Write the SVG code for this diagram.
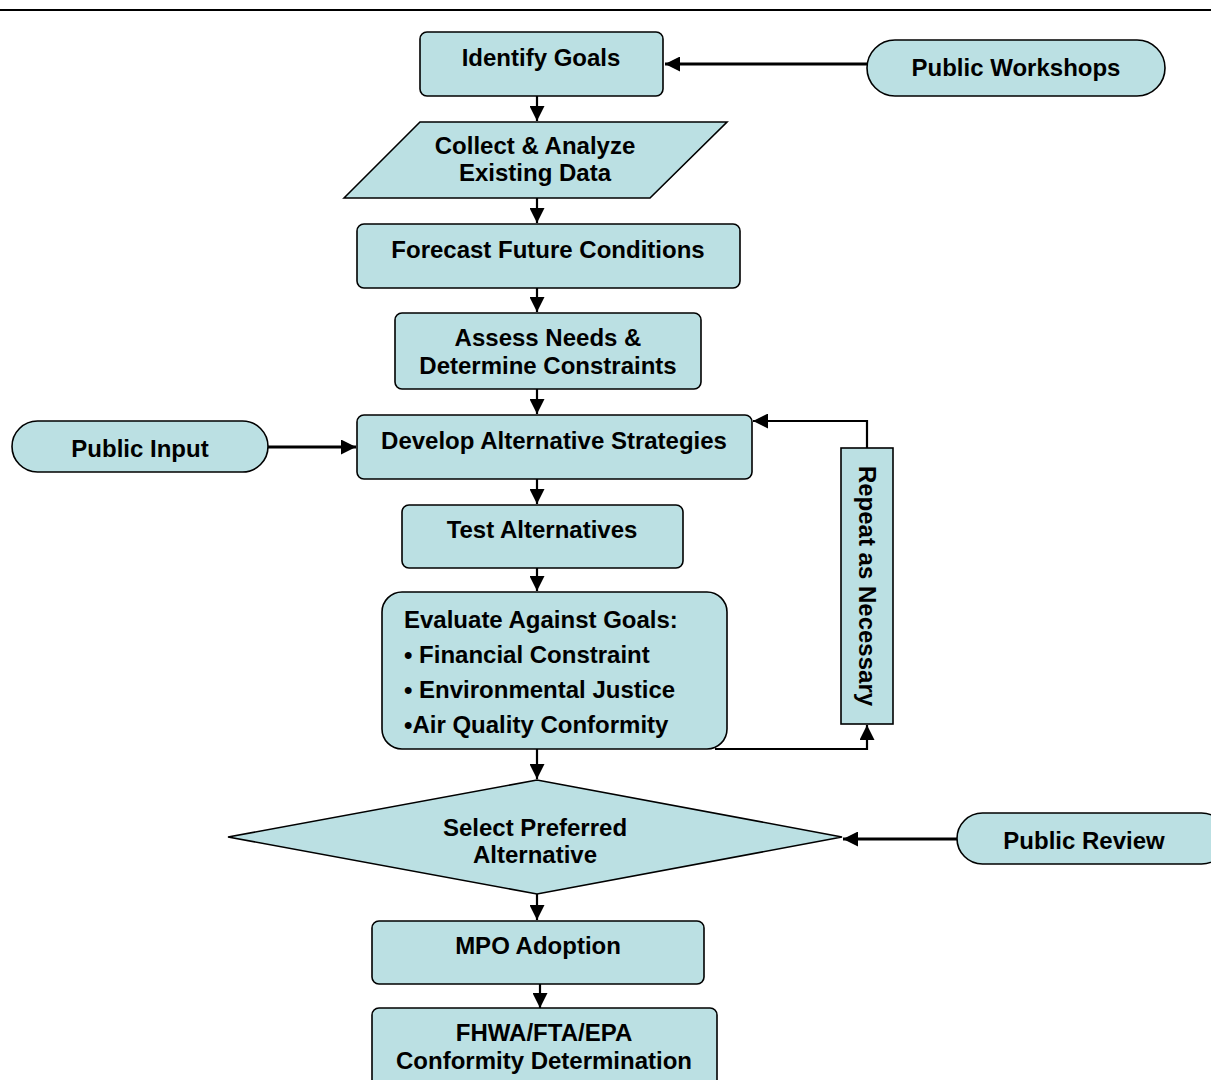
<svg xmlns="http://www.w3.org/2000/svg" width="1211" height="1080" viewBox="0 0 1211 1080">
<style>
.n{fill:#bbe0e3;stroke:#000;stroke-width:1.6}
.t{font-family:"Liberation Sans",Arial,sans-serif;font-weight:bold;font-size:24px;fill:#000}
.m{text-anchor:middle}
.c{fill:none;stroke:#000;stroke-width:2.2}
.h{fill:none;stroke:#000;stroke-width:3}
</style>
<defs>
<marker id="b" viewBox="0 0 10 10" refX="10" refY="5" markerWidth="15" markerHeight="15" markerUnits="userSpaceOnUse" orient="auto">
<path d="M0,0 L10,5 L0,10 z" fill="#000"/>
</marker>
</defs>
<line x1="0" y1="10" x2="1211" y2="10" stroke="#000" stroke-width="2"/>
<g id="connectors">
<line class="h" x1="867" y1="64" x2="665" y2="64" marker-end="url(#b)"/>
<line class="c" x1="537" y1="96" x2="537" y2="121" marker-end="url(#b)"/>
<line class="c" x1="537" y1="198" x2="537" y2="223" marker-end="url(#b)"/>
<line class="c" x1="537" y1="288" x2="537" y2="312" marker-end="url(#b)"/>
<line class="c" x1="537" y1="389" x2="537" y2="414" marker-end="url(#b)"/>
<line class="h" x1="268" y1="447" x2="356" y2="447" marker-end="url(#b)"/>
<line class="c" x1="537" y1="479" x2="537" y2="504" marker-end="url(#b)"/>
<line class="c" x1="537" y1="568" x2="537" y2="591" marker-end="url(#b)"/>
<polyline class="c" points="715,749 867,749 867,725" marker-end="url(#b)"/>
<polyline class="c" points="867,448 867,421 753,421" marker-end="url(#b)"/>
<line class="c" x1="537" y1="749" x2="537" y2="779" marker-end="url(#b)"/>
<line class="h" x1="957" y1="839" x2="843" y2="839" marker-end="url(#b)"/>
<line class="c" x1="537" y1="894" x2="537" y2="920" marker-end="url(#b)"/>
<line class="c" x1="540" y1="984" x2="540" y2="1008" marker-end="url(#b)"/>
</g>
<g id="identify-goals">
<rect class="n" x="420" y="32" width="243" height="64" rx="7"/>
<text class="t m" x="541" y="66">Identify Goals</text>
</g>
<g id="public-workshops">
<rect class="n" x="867" y="40" width="298" height="56" rx="28"/>
<text class="t m" x="1016" y="76">Public Workshops</text>
</g>
<g id="collect-analyze">
<polygon class="n" points="344,198 420,122 727,122 650,198"/>
<text class="t m" x="535" y="154">Collect &amp; Analyze</text>
<text class="t m" x="535" y="181">Existing Data</text>
</g>
<g id="forecast">
<rect class="n" x="357" y="224" width="383" height="64" rx="7"/>
<text class="t m" x="548" y="258">Forecast Future Conditions</text>
</g>
<g id="assess-needs">
<rect class="n" x="395" y="313" width="306" height="76" rx="7"/>
<text class="t m" x="548" y="346">Assess Needs &amp;</text>
<text class="t m" x="548" y="374">Determine Constraints</text>
</g>
<g id="develop-alternatives">
<rect class="n" x="357" y="415" width="395" height="64" rx="7"/>
<text class="t m" x="554" y="449">Develop Alternative Strategies</text>
</g>
<g id="public-input">
<rect class="n" x="12" y="421" width="256" height="51" rx="25.5"/>
<text class="t m" x="140" y="457">Public Input</text>
</g>
<g id="test-alternatives">
<rect class="n" x="402" y="505" width="281" height="63" rx="7"/>
<text class="t m" x="542" y="538">Test Alternatives</text>
</g>
<g id="evaluate">
<rect class="n" x="382" y="592" width="345" height="157" rx="20"/>
<text class="t" x="404" y="628">Evaluate Against Goals:</text>
<text class="t" x="404" y="663">• Financial Constraint</text>
<text class="t" x="404" y="698">• Environmental Justice</text>
<text class="t" x="404" y="733">•Air Quality Conformity</text>
</g>
<g id="repeat">
<rect class="n" x="841" y="448" width="52" height="276"/>
<text class="t m" transform="translate(867,586) rotate(90)" x="0" y="8">Repeat as Necessary</text>
</g>
<g id="select-preferred">
<polygon class="n" points="228,837 537,780 842,837 537,894"/>
<text class="t m" x="535" y="836">Select Preferred</text>
<text class="t m" x="535" y="863">Alternative</text>
</g>
<g id="public-review">
<rect class="n" x="957" y="813" width="270" height="51" rx="25.5"/>
<text class="t m" x="1084" y="849">Public Review</text>
</g>
<g id="mpo-adoption">
<rect class="n" x="372" y="921" width="332" height="63" rx="7"/>
<text class="t m" x="538" y="954">MPO Adoption</text>
</g>
<g id="conformity">
<rect class="n" x="372" y="1008" width="345" height="90" rx="7"/>
<text class="t m" x="544" y="1041">FHWA/FTA/EPA</text>
<text class="t m" x="544" y="1069">Conformity Determination</text>
</g>
</svg>
